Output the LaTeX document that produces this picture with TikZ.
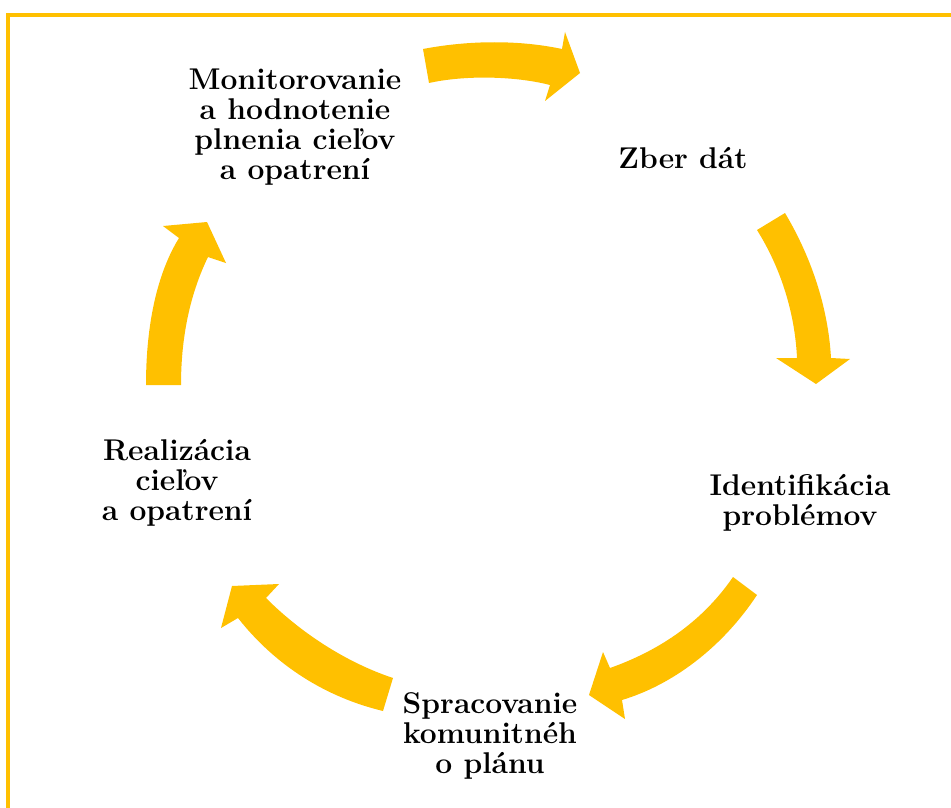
\documentclass[tikz,border=0pt]{standalone}
\usepackage{fontspec}
\definecolor{gold}{RGB}{255,192,0}

\begin{document}
\begin{tikzpicture}[
    x=1pt, y=-1pt,
    font=\fontsize{30}{30}\selectfont\bfseries,
    stage/.style={align=center, inner sep=0pt, anchor=north},
    blockarrow/.style={fill=gold, draw=none},
    frame/.style={draw=gold, line width=3.5pt}
  ]
  \useasboundingbox (0,0) rectangle (951,808);
  \clip (0,0) rectangle (951,808);

  % ===== frame (only top and left edges show) =====
  \draw[frame] (8,830) -- (8,15) -- (970,15);

  % ===== stages of the cycle =====
  \node[stage] (monitor) at (295,69)
    {Monitorovanie\\a hodnotenie\\plnenia cieľov\\a opatrení};
  \node[stage, anchor=base] (zber) at (683,168) {Zber dát};
  \node[stage] (ident) at (800,474) {Identifikácia\\problémov};
  \node[stage] (sprac) at (490,692) {Spracovanie\\komunitnéh\\o plánu};
  \node[stage] (real) at (177,439) {Realizácia\\cieľov\\a opatrení};

  % ===== block arrows between the stages =====
  % monitor -> zber
  \fill[blockarrow] (423,49) .. controls (470,40) and (520,40) .. (562,49)
    -- (565,32) -- (580,73) -- (545,101) -- (550,85)
    .. controls (515,76) and (465,75) .. (429,83) -- cycle;
  % zber -> ident
  \fill[blockarrow] (785,213) .. controls (810,255) and (828,305) .. (831,358)
    -- (850,359) -- (816,384) -- (776,358) -- (797,358)
    .. controls (795,315) and (782,270) .. (757,230) -- cycle;
  % ident -> sprac
  \fill[blockarrow] (757,595) .. controls (722,648) and (672,685) .. (622,700)
    -- (625,719) -- (589,695) -- (603,652) -- (610,668)
    .. controls (655,652) and (700,625) .. (733,577) -- cycle;
  % sprac -> real
  \fill[blockarrow] (383,711) .. controls (325,697) and (275,665) .. (238,618)
    -- (221,628) -- (232,586) -- (279,584) -- (266,598)
    .. controls (300,632) and (345,662) .. (393,678) -- cycle;
  % real -> monitor
  \fill[blockarrow] (146,385) .. controls (146,322) and (158,272) .. (179,238)
    -- (163,226) -- (207,222) -- (226,263) -- (208,257)
    .. controls (192,290) and (181,332) .. (181,385) -- cycle;

\end{tikzpicture}
\end{document}
